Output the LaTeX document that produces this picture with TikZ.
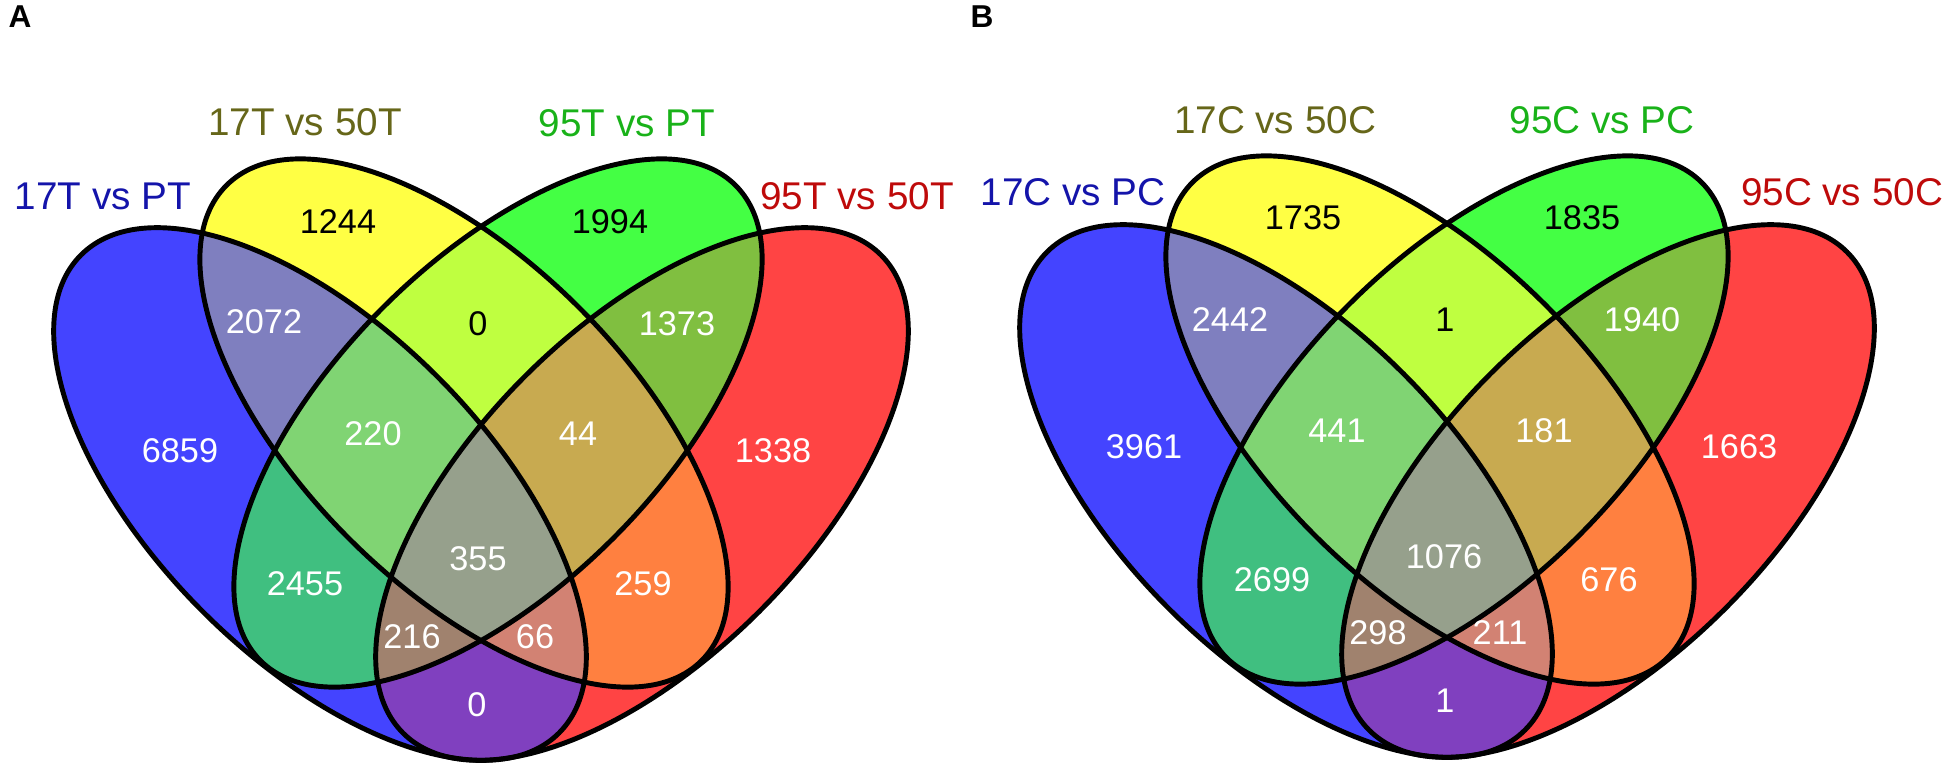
\documentclass[tikz,border=0pt]{standalone}
\usepackage{fontspec}
\setmainfont{Liberation Sans}
\usepackage{tikz}

\definecolor{setone}{HTML}{4444FF}
\definecolor{settwo}{HTML}{FFFF44}
\definecolor{setthree}{HTML}{44FF44}
\definecolor{setfour}{HTML}{FF4444}
\definecolor{onetwo}{HTML}{7F7FBF}
\definecolor{onethree}{HTML}{40BF80}
\definecolor{onefour}{HTML}{8040BF}
\definecolor{twothree}{HTML}{BFFF40}
\definecolor{twofour}{HTML}{FF8040}
\definecolor{threefour}{HTML}{80BF40}
\definecolor{onetwothree}{HTML}{80D473}
\definecolor{onetwofour}{HTML}{D28273}
\definecolor{onethreefour}{HTML}{A0826E}
\definecolor{twothreefour}{HTML}{C8AA50}
\definecolor{allfour}{HTML}{96A08C}
\definecolor{titleone}{HTML}{1414AA}
\definecolor{titletwo}{HTML}{666619}
\definecolor{titlethree}{HTML}{19B219}
\definecolor{titlefour}{HTML}{BE0A0A}

% the four ovals of one panel
\newcommand{\ovalone}{(320,275) ellipse [x radius=338, y radius=166, rotate=-45]}
\newcommand{\ovaltwo}{(464,346) ellipse [x radius=336, y radius=163, rotate=-45]}
\newcommand{\ovalthree}{(498,346) ellipse [x radius=336, y radius=163, rotate=45]}
\newcommand{\ovalfour}{(642,275) ellipse [x radius=338, y radius=166, rotate=45]}

\newcommand{\vennpanel}{%
  \fill[setone] \ovalone;
  \fill[settwo] \ovaltwo;
  \fill[setthree] \ovalthree;
  \fill[setfour] \ovalfour;
  \begin{scope}\clip \ovalone; \fill[onetwo] \ovaltwo; \end{scope}
  \begin{scope}\clip \ovalone; \fill[onethree] \ovalthree; \end{scope}
  \begin{scope}\clip \ovalone; \fill[onefour] \ovalfour; \end{scope}
  \begin{scope}\clip \ovaltwo; \fill[twothree] \ovalthree; \end{scope}
  \begin{scope}\clip \ovaltwo; \fill[twofour] \ovalfour; \end{scope}
  \begin{scope}\clip \ovalthree; \fill[threefour] \ovalfour; \end{scope}
  \begin{scope}\clip \ovalone; \clip \ovaltwo; \fill[onetwothree] \ovalthree; \end{scope}
  \begin{scope}\clip \ovalone; \clip \ovaltwo; \fill[onetwofour] \ovalfour; \end{scope}
  \begin{scope}\clip \ovalone; \clip \ovalthree; \fill[onethreefour] \ovalfour; \end{scope}
  \begin{scope}\clip \ovaltwo; \clip \ovalthree; \fill[twothreefour] \ovalfour; \end{scope}
  \begin{scope}\clip \ovalone; \clip \ovaltwo; \clip \ovalthree; \fill[allfour] \ovalfour; \end{scope}
  \draw[rim] \ovalone;
  \draw[rim] \ovaltwo;
  \draw[rim] \ovalthree;
  \draw[rim] \ovalfour;
}

\begin{document}
\begin{tikzpicture}[
                        x=0.02cm,
                        y=0.02cm,
                        rim/.style={draw=black,line width=2.8pt},
                        num/.style={text=white,font=\fontsize{19.5}{21}\selectfont},
                        dark/.style={num,text=black},
                        title/.style={font=\fontsize{22}{24}\selectfont},
                        panel/.style={font=\bfseries\fontsize{18}{20}\selectfont}
                    ]
                    \useasboundingbox (0,0) rectangle (1950,769);

                    \begin{scope}
                        \vennpanel
                    \end{scope}
                    \begin{scope}[shift={(966,3)}]
                        \vennpanel
                    \end{scope}

                    % panel A
                    \node[panel] (pa) at (20,752) {A};
                    \node[title,text=titleone]   (ta1) at (103,573) {17T vs PT};
                    \node[title,text=titletwo]   (ta2) at (305,647) {17T vs 50T};
                    \node[title,text=titlethree] (ta3) at (627,646) {95T vs PT};
                    \node[title,text=titlefour]  (ta4) at (857,573) {95T vs 50T};

                    \node[dark] (a2)    at (338,547) {1244};
                    \node[dark] (a3)    at (610,547) {1994};
                    \node[num]  (a12)   at (264,447) {2072};
                    \node[dark] (a23)   at (478,445) {0};
                    \node[num]  (a34)   at (677,445) {1373};
                    \node[num]  (a1)    at (180,318) {6859};
                    \node[num]  (a123)  at (373,335) {220};
                    \node[num]  (a234)  at (578,335) {44};
                    \node[num]  (a4)    at (773,318) {1338};
                    \node[num]  (a1234) at (478,210) {355};
                    \node[num]  (a13)   at (305,185) {2455};
                    \node[num]  (a24)   at (643,185) {259};
                    \node[num]  (a134)  at (412,132) {216};
                    \node[num]  (a124)  at (535,132) {66};
                    \node[num]  (a14)   at (477,64)  {0};

                    % panel B
                    \node[panel] (pb) at (982,752) {B};
                    \node[title,text=titleone]   (tb1) at (1073,577) {17C vs PC};
                    \node[title,text=titletwo]   (tb2) at (1275,649) {17C vs 50C};
                    \node[title,text=titlethree] (tb3) at (1602,649) {95C vs PC};
                    \node[title,text=titlefour]  (tb4) at (1842,577) {95C vs 50C};

                    \node[dark] (b2)    at (1303,551) {1735};
                    \node[dark] (b3)    at (1582,551) {1835};
                    \node[num]  (b12)   at (1230,449) {2442};
                    \node[dark] (b23)   at (1445,449) {1};
                    \node[num]  (b34)   at (1642,449) {1940};
                    \node[num]  (b1)    at (1144,322) {3961};
                    \node[num]  (b123)  at (1337,338) {441};
                    \node[num]  (b234)  at (1544,338) {181};
                    \node[num]  (b4)    at (1739,322) {1663};
                    \node[num]  (b1234) at (1444,212) {1076};
                    \node[num]  (b13)   at (1272,189) {2699};
                    \node[num]  (b24)   at (1609,189) {676};
                    \node[num]  (b134)  at (1378,136) {298};
                    \node[num]  (b124)  at (1500,136) {211};
                    \node[num]  (b14)   at (1445,68)  {1};
                \end{tikzpicture}
\end{document}
